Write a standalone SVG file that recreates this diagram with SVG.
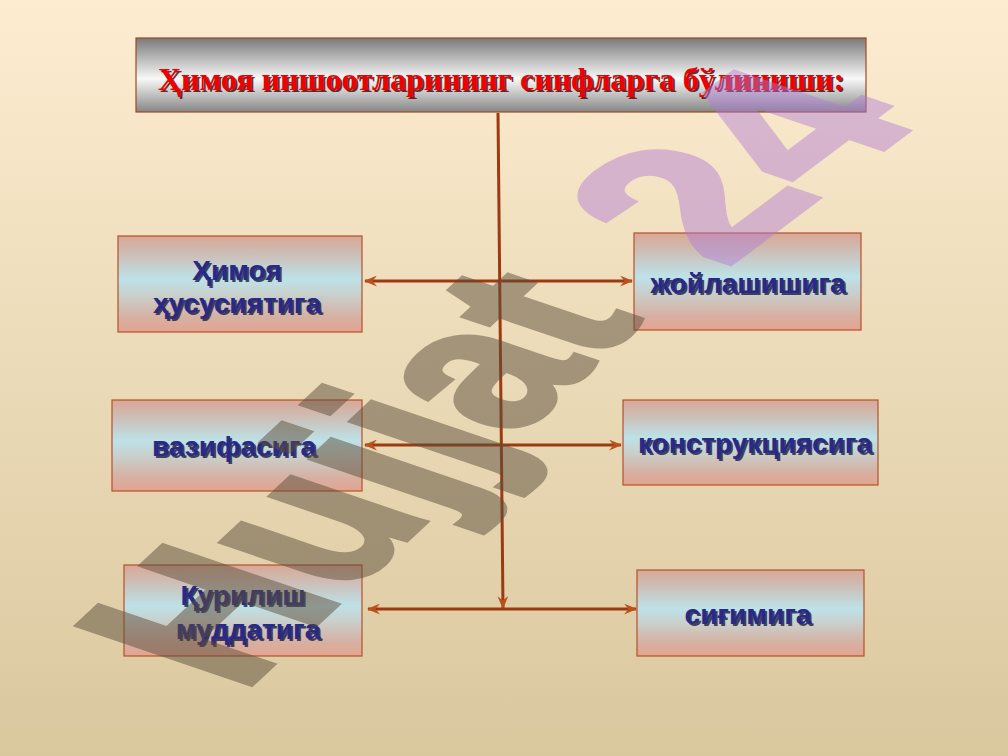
<svg xmlns="http://www.w3.org/2000/svg" width="1008" height="756" viewBox="0 0 1008 756">
<defs>
<linearGradient id="bg" x1="0" y1="0" x2="0" y2="1">
<stop offset="0" stop-color="#fdecd0"/>
<stop offset="1" stop-color="#d9c89e"/>
</linearGradient>
<linearGradient id="tg" x1="0" y1="0" x2="0" y2="1">
<stop offset="0" stop-color="#7a7a7a"/>
<stop offset="0.55" stop-color="#f8f8f8"/>
<stop offset="1" stop-color="#868686"/>
</linearGradient>
<linearGradient id="bxg" x1="0" y1="0" x2="0" y2="1">
<stop offset="0" stop-color="#d8a896"/>
<stop offset="0.18" stop-color="#cdbdb4"/>
<stop offset="0.45" stop-color="#bde2e8"/>
<stop offset="0.62" stop-color="#c9cfcb"/>
<stop offset="0.85" stop-color="#d6b0a2"/>
<stop offset="1" stop-color="#e4a490"/>
</linearGradient>
<marker id="ah" viewBox="0 0 12 10" refX="11" refY="5" markerWidth="13" markerHeight="11" markerUnits="userSpaceOnUse" orient="auto-start-reverse">
<path d="M0,0 L12,5 L0,10 L4,5 Z" fill="#b9501e"/>
</marker>
</defs>
<style>
.box{fill:url(#bxg);stroke:#b4502c;stroke-width:1.2}
.lbl{font-family:"Liberation Sans",Arial,sans-serif;font-weight:bold;font-size:28px;text-anchor:middle;fill:#28298a}
.sh{fill:#12122e;opacity:0.75}
.con{stroke:#9c3a12;stroke-width:3;fill:none}
.ttl{font-family:"Liberation Serif","Times New Roman",serif;font-weight:bold;font-size:32px;text-anchor:middle}
.wm{font-family:"Liberation Sans",Arial,sans-serif;font-weight:bold;font-size:100px}
</style>
<rect x="0" y="0" width="1008" height="756" fill="url(#bg)"/>

<g id="title">
<rect x="136" y="38" width="730" height="74" fill="url(#tg)" stroke="#9a4a2a" stroke-width="1.2"/>
<text class="ttl" x="503" y="92" fill="#4a0000" opacity="0.8">Ҳимоя иншоотларининг синфларга бўлиниши:</text>
<text class="ttl" x="501" y="90" fill="#ee0000">Ҳимоя иншоотларининг синфларга бўлиниши:</text>
</g>

<g id="node-himoya">
<rect class="box" x="118" y="236" width="244" height="96"/>
<text class="lbl sh" x="239" y="282">Ҳимоя</text>
<text class="lbl" x="237" y="280">Ҳимоя</text>
<text class="lbl sh" x="239" y="315">ҳусусиятига</text>
<text class="lbl" x="237" y="313">ҳусусиятига</text>
</g>

<g id="node-joylash">
<rect class="box" x="634" y="233" width="227" height="97"/>
<text class="lbl sh" x="750" y="295">жойлашишига</text>
<text class="lbl" x="748" y="293">жойлашишига</text>
</g>

<g id="node-vazifa">
<rect class="box" x="112" y="400" width="250" height="91"/>
<text class="lbl sh" x="236" y="458">вазифасига</text>
<text class="lbl" x="234" y="456">вазифасига</text>
</g>

<g id="node-konstr">
<rect class="box" x="623" y="400" width="255" height="85"/>
<text class="lbl sh" x="757" y="455">конструкциясига</text>
<text class="lbl" x="755" y="453">конструкциясига</text>
</g>

<g id="node-qurilish">
<rect class="box" x="124" y="565" width="238" height="91"/>
<text class="lbl sh" x="245" y="607">Қурилиш</text>
<text class="lbl" x="243" y="605">Қурилиш</text>
<text class="lbl sh" x="250" y="641">муддатига</text>
<text class="lbl" x="248" y="639">муддатига</text>
</g>

<g id="node-sigim">
<rect class="box" x="637" y="570" width="227" height="86"/>
<text class="lbl sh" x="750" y="626">сиғимига</text>
<text class="lbl" x="748" y="624">сиғимига</text>
</g>

<g id="connectors">
<line class="con" x1="498" y1="113" x2="503" y2="608" marker-end="url(#ah)"/>
<line class="con" x1="365" y1="281" x2="632" y2="281" marker-start="url(#ah)" marker-end="url(#ah)"/>
<line class="con" x1="365" y1="445" x2="621" y2="445" marker-start="url(#ah)" marker-end="url(#ah)"/>
<line class="con" x1="368" y1="609" x2="636" y2="609" marker-start="url(#ah)" marker-end="url(#ah)"/>
</g>

<g id="watermark">
<text class="wm" transform="matrix(1.45,-1.35,2.50,0.85,241,693)" fill="#5e4f3c" stroke="#5e4f3c" stroke-width="3" opacity="0.5">Hujjat</text>
<text class="wm" transform="matrix(1.80,-1.35,2.50,0.85,724,268)" fill="#b07ad6" stroke="#b07ad6" stroke-width="3" opacity="0.45">24</text>
</g>
</svg>
